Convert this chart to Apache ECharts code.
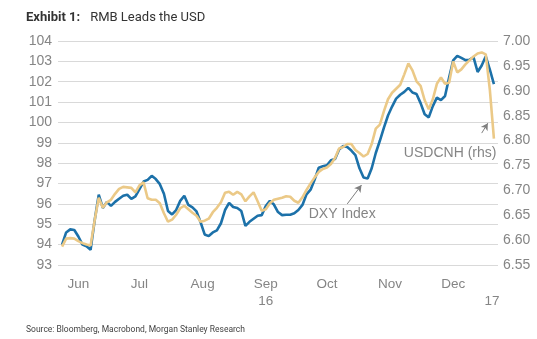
<!DOCTYPE html>
<html><head><meta charset="utf-8">
<script src="https://cdn.jsdelivr.net/npm/echarts@6/dist/echarts.min.js"></script>
<style>html,body{margin:0;padding:0;background:#fff}#c{width:537px;height:339px}</style>
</head><body><div id="c"></div>
<script>
const dates = [
'2016-06-01','2016-06-03','2016-06-05','2016-06-07','2016-06-09','2016-06-11','2016-06-13','2016-06-15','2016-06-17','2016-06-19',
'2016-06-21','2016-06-23','2016-06-25','2016-06-27','2016-06-29','2016-07-01','2016-07-03','2016-07-05','2016-07-07','2016-07-09',
'2016-07-11','2016-07-13','2016-07-15','2016-07-17','2016-07-19','2016-07-21','2016-07-23','2016-07-25','2016-07-27','2016-07-29',
'2016-07-31','2016-08-02','2016-08-04','2016-08-06','2016-08-08','2016-08-10','2016-08-12','2016-08-14','2016-08-16','2016-08-18',
'2016-08-20','2016-08-22','2016-08-24','2016-08-26','2016-08-28','2016-08-30','2016-09-01','2016-09-03','2016-09-05','2016-09-07',
'2016-09-09','2016-09-11','2016-09-13','2016-09-15','2016-09-17','2016-09-19','2016-09-21','2016-09-23','2016-09-25','2016-09-27',
'2016-09-29','2016-10-01','2016-10-03','2016-10-05','2016-10-07','2016-10-09','2016-10-11','2016-10-13','2016-10-15','2016-10-17',
'2016-10-19','2016-10-21','2016-10-23','2016-10-25','2016-10-27','2016-10-29','2016-10-31','2016-11-02','2016-11-04','2016-11-06',
'2016-11-08','2016-11-10','2016-11-12','2016-11-14','2016-11-16','2016-11-18','2016-11-20','2016-11-22','2016-11-24','2016-11-26',
'2016-11-28','2016-11-30','2016-12-02','2016-12-04','2016-12-06','2016-12-08','2016-12-10','2016-12-12','2016-12-14','2016-12-16',
'2016-12-18','2016-12-20','2016-12-22','2016-12-24','2016-12-26','2016-12-28','2016-12-30'];

const dxyIndex = [
94.0, 94.6, 94.75, 94.72, 94.4, 94.0, 93.92, 93.75, 95.2, 96.45,
95.8, 96.1, 95.9, 96.1, 96.25, 96.4, 96.45, 96.25, 96.37, 96.73,
97.1, 97.18, 97.38, 97.22, 96.97, 96.5, 95.65, 95.48, 95.7, 96.15,
96.4, 95.95, 95.83, 95.63, 95.1, 94.5, 94.42, 94.6, 94.7, 95.05,
95.7, 96.05, 95.85, 95.8, 95.65, 94.92, 95.12, 95.27, 95.42, 95.45,
95.9, 96.15, 95.97, 95.6, 95.45, 95.47, 95.47, 95.54, 95.7, 95.95,
96.47, 96.7, 97.2, 97.78, 97.85, 97.9, 98.14, 98.2, 98.67, 98.84,
98.79, 98.62, 98.4, 97.75, 97.3, 97.25, 97.75, 98.5, 99.1, 99.75,
100.34, 100.78, 101.17, 101.36, 101.5, 101.7, 101.47, 101.4, 100.95, 100.4,
100.25, 100.8, 101.22, 101.1, 101.3, 102.2, 103.05, 103.27, 103.17, 103.06,
103.08, 103.2, 102.48, 102.8, 103.25, 102.6, 101.88];

const usdcnh = [
6.587, 6.603, 6.604, 6.603, 6.598, 6.594, 6.591, 6.589, 6.640, 6.685,
6.665, 6.676, 6.681, 6.693, 6.703, 6.707, 6.706, 6.705, 6.696, 6.710,
6.716, 6.684, 6.681, 6.681, 6.674, 6.654, 6.637, 6.641, 6.651, 6.664,
6.669, 6.662, 6.655, 6.649, 6.637, 6.639, 6.643, 6.656, 6.665, 6.676,
6.695, 6.697, 6.691, 6.697, 6.692, 6.678, 6.688, 6.696, 6.678, 6.659,
6.662, 6.674, 6.681, 6.683, 6.685, 6.688, 6.687, 6.679, 6.675, 6.686,
6.701, 6.714, 6.726, 6.737, 6.743, 6.746, 6.753, 6.765, 6.784, 6.787,
6.793, 6.793, 6.781, 6.775, 6.768, 6.773, 6.793, 6.824, 6.832, 6.859,
6.883, 6.896, 6.904, 6.912, 6.933, 6.955, 6.941, 6.919, 6.910, 6.881,
6.863, 6.883, 6.914, 6.927, 6.914, 6.916, 6.959, 6.937, 6.943, 6.953,
6.961, 6.969, 6.975, 6.977, 6.973, 6.902, 6.804];

const xLabelDates = ['2016-06-09','2016-07-09','2016-08-09','2016-09-09','2016-10-09','2016-11-09','2016-12-10','2016-12-29'];
const xLabelTexts = ['Jun','Jul','Aug','Sep\n16','Oct','Nov','Dec','\n17'];
const xRange = ['2016-05-30', '2017-01-01'];
const leftTicks = [93, 104, 1];
const rightTicks = [6.55, 7.00, 0.05];

function ts(s) {
  const p = s.split(/[- :]/).map(Number);
  return Date.UTC(p[0], p[1] - 1, p[2], p[3] || 0, p[4] || 0);
}

const chart = echarts.init(document.getElementById('c'), null, {renderer: 'canvas'});
const gray = '#858585';
const xLabelTs = xLabelDates.map(ts);

chart.setOption({
  animation: false,
  backgroundColor: '#ffffff',
  title: [{
    text: '{b|Exhibit 1:}  {n|RMB Leads the USD}',
    left: 21, top: 4,
    textStyle: {fontWeight: 'normal', rich: {
      b: {fontWeight: 'bold', fontSize: 13, color: '#333333', fontFamily: 'Roboto'},
      n: {fontWeight: 'normal', fontSize: 13, color: '#333333', fontFamily: 'Roboto'}
    }}
  }, {
    text: 'Source: Bloomberg, Macrobond, Morgan Stanley Research',
    left: 21, top: 320,
    textStyle: {fontSize: 8.5, fontWeight: 'normal', color: '#444444', fontFamily: 'Roboto'}
  }],
  grid: {left: 58, right: 39, top: 41, bottom: 74},
  xAxis: {
    type: 'value',
    min: ts(xRange[0]), max: ts(xRange[1]),
    axisLine: {show: false}, axisTick: {show: false},
    splitLine: {show: false},
    axisLabel: {
      customValues: xLabelTs,
      hideOverlap: false,
      formatter: function (v) {
        const i = xLabelTs.indexOf(+v);
        return i >= 0 ? xLabelTexts[i] : '';
      },
      color: gray, fontSize: 13.5, fontFamily: 'Liberation Sans', margin: 11, lineHeight: 17
    }
  },
  yAxis: [{
    type: 'value', min: leftTicks[0], max: leftTicks[1], interval: leftTicks[2],
    axisLine: {show: false}, axisTick: {show: false},
    splitLine: {lineStyle: {color: '#d9d9d9', width: 1}},
    axisLabel: {color: gray, fontSize: 14, fontFamily: 'Liberation Sans', margin: 6}
  }, {
    type: 'value', min: rightTicks[0], max: rightTicks[1], interval: rightTicks[2],
    axisLine: {show: false}, axisTick: {show: false},
    splitLine: {show: false},
    axisLabel: {color: gray, fontSize: 14, fontFamily: 'Liberation Sans', margin: 5,
      formatter: v => v.toFixed(2)}
  }],
  series: [{
    name: 'DXY Index', type: 'line', yAxisIndex: 0, showSymbol: false,
    data: dates.map((d, i) => [ts(d), dxyIndex[i]]),
    lineStyle: {color: '#1c71a9', width: 2.6}, itemStyle: {color: '#1c71a9'},
    markLine: {
      silent: true, symbol: ['none', 'arrow'], symbolSize: [6, 7],
      lineStyle: {color: '#7f7f7f', width: 1, type: 'solid'}, label: {show: false},
      data: [[{coord: [ts('2016-10-19'), 96.0]}, {coord: [ts('2016-10-26'), 96.93]}]]
    },
    markPoint: {
      silent: true, symbol: 'circle', symbolSize: 0,
      label: {show: true, position: 'inside', color: gray, fontSize: 14, fontFamily: 'Liberation Sans'},
      data: [{coord: [ts('2016-10-16 12:00'), 95.5], value: 'DXY Index', label: {formatter: 'DXY Index'}}]
    }
  }, {
    name: 'USDCNH (rhs)', type: 'line', yAxisIndex: 1, showSymbol: false,
    data: dates.map((d, i) => [ts(d), usdcnh[i]]),
    lineStyle: {color: '#ebc987', width: 2.6}, itemStyle: {color: '#ebc987'},
    markLine: {
      silent: true, symbol: ['none', 'arrow'], symbolSize: [6, 7],
      lineStyle: {color: '#7f7f7f', width: 1, type: 'solid'}, label: {show: false},
      data: [[{coord: [ts('2016-12-24'), 6.815]}, {coord: [ts('2016-12-27'), 6.835]}]]
    },
    markPoint: {
      silent: true, symbol: 'circle', symbolSize: 0,
      label: {show: true, position: 'inside', color: gray, fontSize: 14, fontFamily: 'Liberation Sans'},
      data: [{coord: [ts('2016-12-08 12:00'), 6.774], value: 'USDCNH (rhs)', label: {formatter: 'USDCNH (rhs)'}}]
    }
  }]
});
</script></body></html>
